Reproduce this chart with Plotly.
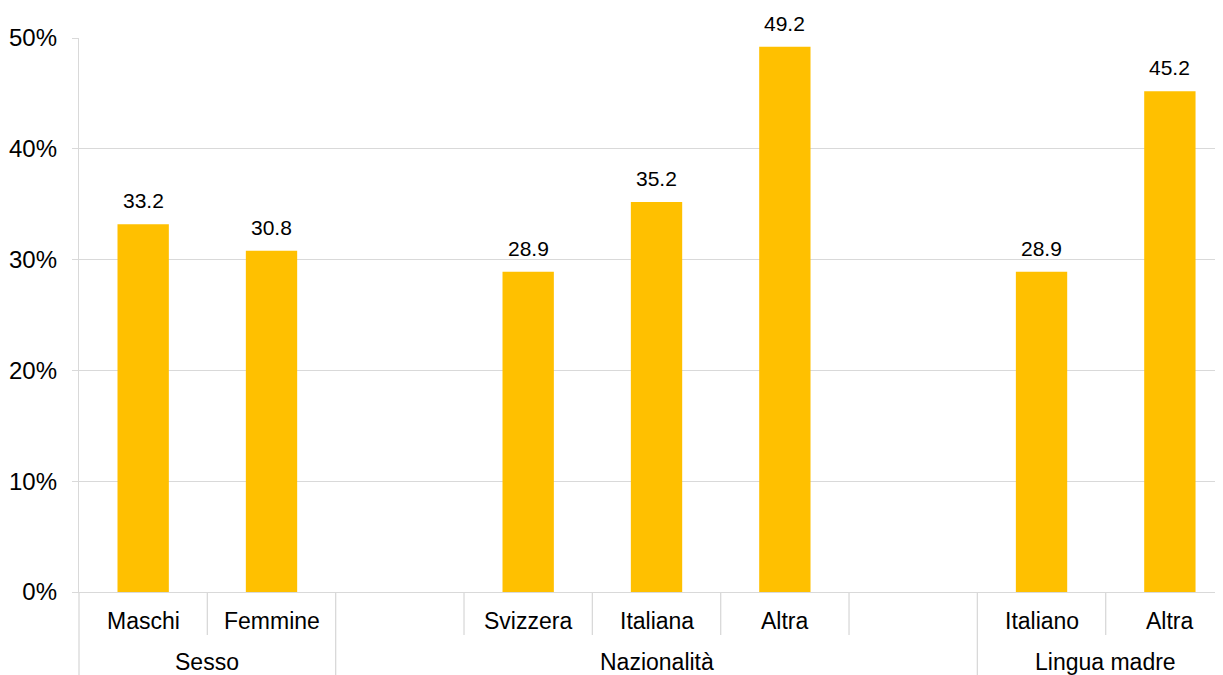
import plotly.graph_objects as go

# ---- data ----
categories = ["Maschi", "Femmine", "", "Svizzera", "Italiana", "Altra", "", "Italiano", "Altra"]
values = [33.2, 30.8, None, 28.9, 35.2, 49.2, None, 28.9, 45.2]
group_names = ["Sesso", "Nazionalità", "Lingua madre"]
group_start = [0, 2, 7]
group_end = [1, 6, 8]
y_ticks = [0, 10, 20, 30, 40, 50]
y_tick_text = [f"{t}%" for t in y_ticks]

# ---- layout constants (page body has an 8px margin) ----
OFF = 8
W, H = 1223 - OFF, 675 - OFF
ML, MR, MT, MB = 78.5 - OFF, 0, 38 - OFF, 83
plot_h = H - MT - MB
x_r0, x_r1 = -0.5, 8.414
FONT = "Liberation Sans, Arial, sans-serif"
GRID = "#d9d9d9"
BAR = "#FFC000"
LW = 1.3

xs = list(range(len(categories)))

fig = go.Figure()
fig.add_trace(go.Bar(
    x=xs, y=values, width=0.4, marker=dict(color=BAR, line=dict(width=0)),
    hoverinfo="skip", showlegend=False,
))

annotations = []
# data labels
for x, v in zip(xs, values):
    if v is None:
        continue
    annotations.append(dict(
        x=x, y=v, xref="x", yref="y", text=f"{v:.1f}", showarrow=False,
        yanchor="bottom", yshift=10, font=dict(family=FONT, size=21, color="#000000"),
    ))

# category labels
for x, c in zip(xs, categories):
    if not c:
        continue
    annotations.append(dict(
        x=x, y=-29 / plot_h, xref="x", yref="paper", text=c, showarrow=False,
        yanchor="middle", font=dict(family=FONT, size=23, color="#000000"),
    ))

# group labels
for name, s, e in zip(group_names, group_start, group_end):
    annotations.append(dict(
        x=(s + e) / 2, y=-70 / plot_h, xref="x", yref="paper", text=name, showarrow=False,
        yanchor="middle", font=dict(family=FONT, size=23, color="#000000"),
    ))

def to_paper(b):
    return (b - x_r0) / (x_r1 - x_r0)

shapes = []
group_bounds = set([group_start[0] - 0.5] + [e + 0.5 for e in group_end])
for i in range(len(categories)):
    b = i - 0.5
    long = b in group_bounds
    y1 = -MB / plot_h if long else -43 / plot_h
    shapes.append(dict(
        type="line", xref="paper", yref="paper", x0=to_paper(b), x1=to_paper(b),
        y0=0, y1=y1, line=dict(color=GRID, width=LW),
    ))

fig.update_layout(
    width=W, height=H,
    margin=dict(l=ML, r=MR, t=MT, b=MB, pad=0, autoexpand=False),
    paper_bgcolor="white", plot_bgcolor="white",
    font=dict(family=FONT, size=22, color="#000000"),
    annotations=annotations, shapes=shapes,
    xaxis=dict(
        range=[x_r0, x_r1], showticklabels=False, showgrid=False, zeroline=False,
        showline=True, linecolor=GRID, linewidth=LW, ticks="",
    ),
    yaxis=dict(
        range=[0, 50], tickmode="array", tickvals=y_ticks, ticktext=y_tick_text,
        showgrid=True, gridcolor=GRID, gridwidth=LW, zeroline=False,
        showline=True, linecolor=GRID, linewidth=LW,
        ticks="outside", ticklen=6, tickcolor=GRID, tickwidth=LW,
        ticklabelstandoff=10,
        tickfont=dict(family=FONT, size=24, color="#000000"),
    ),
)

fig.write_html("out.html")
